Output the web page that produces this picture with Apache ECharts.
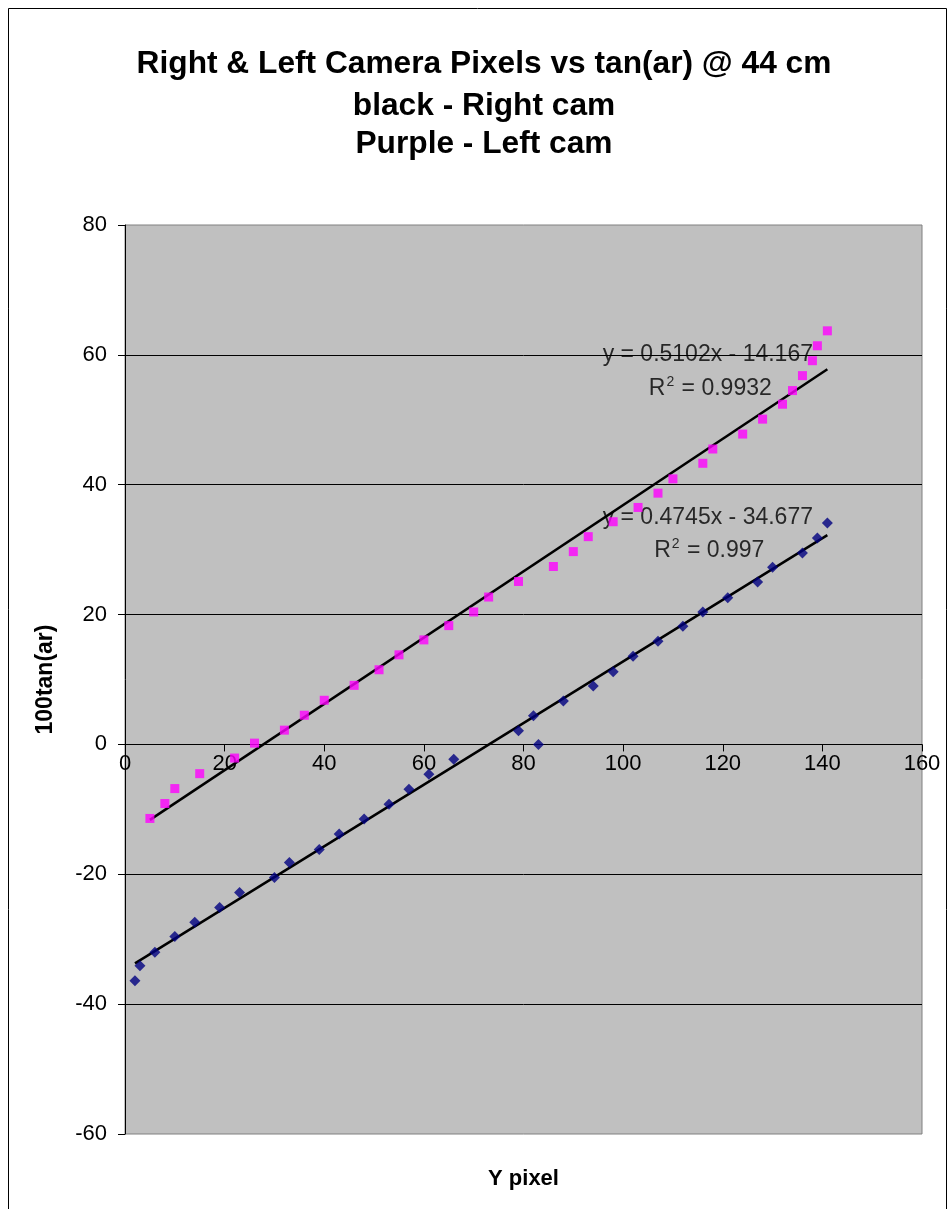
<!DOCTYPE html>
<html>
<head>
<meta charset="utf-8">
<script src="https://cdn.jsdelivr.net/npm/echarts@6/dist/echarts.min.js"></script>
<style>
html,body{margin:0;padding:0;background:#fff;}
#chart{width:952px;height:1209px;}
</style>
</head>
<body>
<div id="chart"></div>
<script>
// Left camera (magenta squares)
const leftX = [5,8,10,15,22,26,32,36,40,46,51,55,60,65,70,73,79,86,90,93,98,103,107,110,116,118,124,128,132,134,136,138,139,141];
const leftY = [-11.4,-9.1,-6.8,-4.5,-2.1,0.2,2.2,4.5,6.8,9.1,11.5,13.8,16.1,18.3,20.4,22.7,25.1,27.4,29.7,32.0,34.3,36.5,38.7,40.9,43.3,45.5,47.8,50.1,52.4,54.5,56.8,59.1,61.4,63.7];
// Right camera (navy diamonds)
const rightX = [2,3,6,10,14,19,23,30,33,39,43,48,53,57,61,66,79,82,83,88,94,98,102,107,112,116,121,127,130,136,139,141];
const rightY = [-36.4,-34.1,-32.0,-29.6,-27.4,-25.1,-22.8,-20.5,-18.2,-16.2,-13.8,-11.5,-9.2,-6.9,-4.6,-2.3,2.1,4.4,0.0,6.7,9.0,11.2,13.6,15.9,18.2,20.4,22.6,25.0,27.3,29.5,31.8,34.1];
// Linear trendline coefficients (from the chart's equations)
const leftFit = {slope: 0.5102, intercept: -14.167, r2: '0.9932'};
const rightFit = {slope: 0.4745, intercept: -34.677, r2: '0.997'};
// Axis ticks
const xTicks = [0,20,40,60,80,100,120,140,160];
const yTicks = [-60,-40,-20,0,20,40,60,80];

const titleLines = ['Right & Left Camera Pixels vs tan(ar) @ 44 cm','black - Right cam','Purple - Left cam'];

function zip(xs, ys){ return xs.map((x,i)=>[x, ys[i]]); }
function fitLine(xs, fit){
  const x0 = Math.min(...xs), x1 = Math.max(...xs);
  return [[x0, fit.slope*x0 + fit.intercept],[x1, fit.slope*x1 + fit.intercept]];
}
function eqText(fit){
  const b = fit.intercept;
  return 'y = ' + fit.slope + 'x ' + (b<0 ? '- ' : '+ ') + Math.abs(b);
}

const FONT = 'Arial, "Liberation Sans", sans-serif';
const chart = echarts.init(document.getElementById('chart'), null, {renderer:'canvas'});

const eqRich = {
  n: {fontSize: 23, fontFamily: FONT, color: '#000', lineHeight: 26},
  sup: {fontSize: 14, fontFamily: FONT, color: '#000', lineHeight: 26, padding: [0,1,13,1]}
};

function labelPoint(x, y, text){
  return {value:[x,y], label:{show:true, position:'inside', formatter:text, rich:eqRich}};
}

const TITLE_FS = 31.7;
const titleCenters = [64, 106, 144];

const option = {
  backgroundColor: '#fff',
  animation: false,
  title: titleLines.map((t,i)=>({
    text: t, left: 484, top: titleCenters[i] - TITLE_FS/2, textAlign: 'center', padding: 0,
    textStyle: {fontSize: TITLE_FS, fontWeight: 'bold', fontFamily: FONT, color: '#000', lineHeight: TITLE_FS}
  })),
  graphic: [{
    type: 'rect', left: 6, top: 6, z: -10, silent: true,
    shape: {width: 938, height: 1240},
    style: {fill: 'none', stroke: '#000', lineWidth: 1}
  }],
  grid: {
    left: 125, right: 30, top: 225, bottom: 75,
    show: true, backgroundColor: '#C0C0C0', borderColor: '#808080', borderWidth: 1
  },
  xAxis: [
    {
      // bottom axis: carries only the axis title
      type: 'value', min: xTicks[0], max: xTicks[xTicks.length-1], interval: 20,
      position: 'bottom',
      name: 'Y pixel', nameLocation: 'middle', nameGap: 34,
      nameTextStyle: {fontSize: 22, fontWeight: 'bold', fontFamily: FONT, color: '#000'},
      axisLine: {show: false, onZero: false},
      axisTick: {show: false},
      axisLabel: {show: false},
      splitLine: {show: false}
    },
    {
      // axis drawn across y = 0 with ticks and labels
      type: 'value', min: xTicks[0], max: xTicks[xTicks.length-1], interval: 20,
      position: 'bottom', offset: 0,
      axisLine: {show: true, onZero: false, lineStyle: {color: '#000', width: 1}},
      axisTick: {show: true, inside: false, length: 7, lineStyle: {color: '#000'}},
      axisLabel: {fontSize: 22, fontFamily: FONT, color: '#000', margin: 9, showMinLabel: true, showMaxLabel: true},
      splitLine: {show: false}
    }
  ],
  yAxis: {
    type: 'value', min: yTicks[0], max: yTicks[yTicks.length-1], interval: 20,
    name: '100tan(ar)', nameLocation: 'middle', nameGap: 68, nameRotate: 90,
    nameTextStyle: {fontSize: 23, fontWeight: 'bold', fontFamily: FONT, color: '#000'},
    axisLine: {show: true, onZero: false, lineStyle: {color: '#000', width: 1}},
    axisTick: {show: true, inside: false, length: 7, lineStyle: {color: '#000'}},
    axisLabel: {fontSize: 22, fontFamily: FONT, color: '#000', margin: 18},
    splitLine: {show: true, showMinLine: false, showMaxLine: false, lineStyle: {color: '#000', width: 1}}
  },
  series: [
    {
      name: 'Equations', type: 'scatter', symbol: 'circle', symbolSize: 1, z: 2, silent: true,
      itemStyle: {color: 'rgba(0,0,0,0)'},
      data: [
        labelPoint(117, 60.1, '{n|' + eqText(leftFit) + '}'),
        labelPoint(117.5, 54.8, '{n|R}{sup|2}{n| = ' + leftFit.r2 + '}'),
        labelPoint(117, 35.0, '{n|' + eqText(rightFit) + '}'),
        labelPoint(117.3, 29.8, '{n|R}{sup|2}{n| = ' + rightFit.r2 + '}')
      ]
    },
    {
      name: 'Left cam', type: 'scatter', symbol: 'rect', symbolSize: 9,
      itemStyle: {color: '#FF00FF'}, data: zip(leftX, leftY), z: 5
    },
    {
      name: 'Right cam', type: 'scatter', symbol: 'diamond', symbolSize: [11,11],
      itemStyle: {color: '#000080'}, data: zip(rightX, rightY), z: 5
    },
    {
      name: 'Left trend', type: 'line', symbol: 'none', data: fitLine(leftX, leftFit),
      lineStyle: {color: '#000', width: 2.5}, z: 4
    },
    {
      name: 'Right trend', type: 'line', symbol: 'none', data: fitLine(rightX, rightFit),
      lineStyle: {color: '#000', width: 2.5}, z: 4
    }
  ]
};
chart.setOption(option);

// Move the labelled x axis up so it crosses the y axis at 0 (positions from the library's own scale)
const zeroPx = chart.convertToPixel({yAxisIndex: 0}, 0);
const minPx = chart.convertToPixel({yAxisIndex: 0}, yTicks[0]);
chart.setOption({xAxis: [{}, {offset: zeroPx - minPx}]});
</script>
</body>
</html>
